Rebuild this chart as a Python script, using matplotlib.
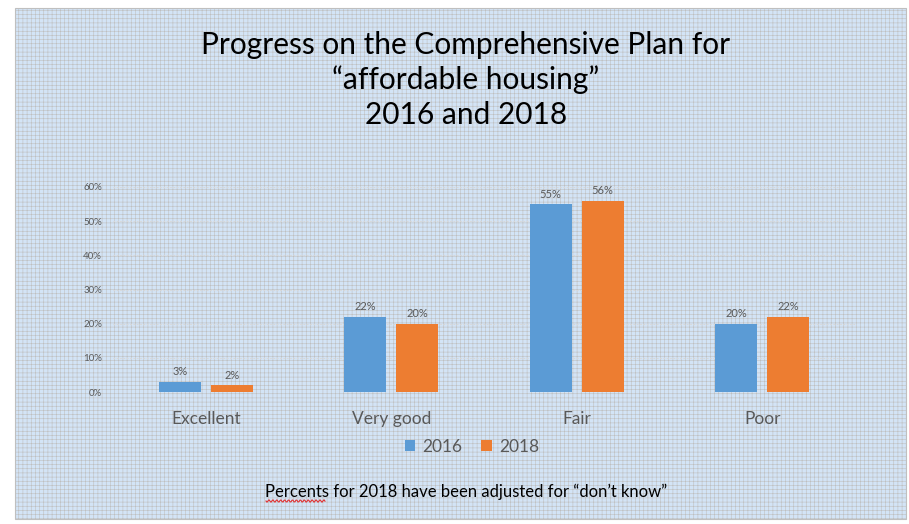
import matplotlib.pyplot as plt
import numpy as np
from matplotlib.patches import Rectangle

categories = ['Excellent', 'Very good', 'Fair', 'Poor']
values_2016 = [3, 22, 55, 20]
values_2018 = [2, 20, 56, 22]
series_names = ['2016', '2018']
yticks = [0, 10, 20, 30, 40, 50, 60]

blue = '#5b9bd5'
orange = '#ed7d31'
grey = '#595959'
bg = '#d3e4f6'

plt.rcParams['font.family'] = ['Lato', 'DejaVu Sans']
plt.rcParams['hatch.color'] = '#f2f7fd'

fig = plt.figure(figsize=(9.09, 5.24), dpi=100)
fig.patch.set_facecolor('white')

# patterned chart background with thin border
frame = Rectangle((15 / 909, 1 - 519 / 524), 891 / 909, 511 / 524,
                  transform=fig.transFigure, facecolor=bg, edgecolor='#bfbfbf',
                  hatch='++++', linewidth=0.8, zorder=0)
frame.set_hatch_linewidth(0.4)
fig.patches.append(frame)

ax = fig.add_axes([113 / 909, 1 - 392 / 524, 742 / 909, 205 / 524])
ax.set_zorder(2)
ax.set_facecolor('none')

x = np.arange(len(categories))
w = 0.226
off = 0.14
b1 = ax.bar(x - off, values_2016, w, color=blue, label=series_names[0], zorder=3)
b2 = ax.bar(x + off, values_2018, w, color=orange, label=series_names[1], zorder=3)

for bars, vals in ((b1, values_2016), (b2, values_2018)):
    for r, v in zip(bars, vals):
        ax.text(r.get_x() + r.get_width() / 2, v + 1.3, f'{v}%', ha='center',
                va='bottom', fontsize=8, color=grey)

ax.set_xlim(-0.5, len(categories) - 0.5)
ax.set_ylim(0, 60)
ax.set_yticks(yticks)
ax.set_yticklabels([f'{t}%' for t in yticks], fontsize=7, color=grey)
ax.set_xticks(x)
ax.set_xticklabels(categories, fontsize=12.5, color=grey)
ax.tick_params(axis='both', length=0)
ax.tick_params(axis='x', pad=14)
ax.tick_params(axis='y', pad=8)
ax.grid(axis='y', color='#d8d8d8', linestyle=(0, (1.5, 1.5)), linewidth=0.8, zorder=0)
for s in ax.spines.values():
    s.set_visible(False)

tx = 466 / 909
fig.text(tx, 1 - 45 / 524, 'Progress on the Comprehensive Plan for', ha='center',
         va='center', fontsize=21.5, color='black')
fig.text(tx, 1 - 80 / 524, '\u201caffordable housing\u201d', ha='center',
         va='center', fontsize=21.5, color='black')
fig.text(tx, 1 - 115 / 524, '2016 and 2018', ha='center',
         va='center', fontsize=21.5, color='black')

fig.legend(loc='center', bbox_to_anchor=(472 / 909, 1 - 447 / 524), ncol=2,
           frameon=False, fontsize=12.5, labelcolor=grey, handlelength=0.6,
           handleheight=0.6, handletextpad=0.4, columnspacing=1.1)

fig.text(466 / 909, 1 - 492 / 524, 'Percents for 2018 have been adjusted for \u201cdon\u2019t know\u201d',
         ha='center', va='center', fontsize=12, color='black')

# red spell-check squiggle under "Percents"
sx = np.linspace(266, 325, 60)
sy = 501 + 1.2 * np.sin((sx - 266) * 1.6)
fig.add_artist(plt.Line2D(sx / 909, 1 - sy / 524, color='#e03030', linewidth=0.8,
                          transform=fig.transFigure))

fig.savefig('out.png', dpi=100)
